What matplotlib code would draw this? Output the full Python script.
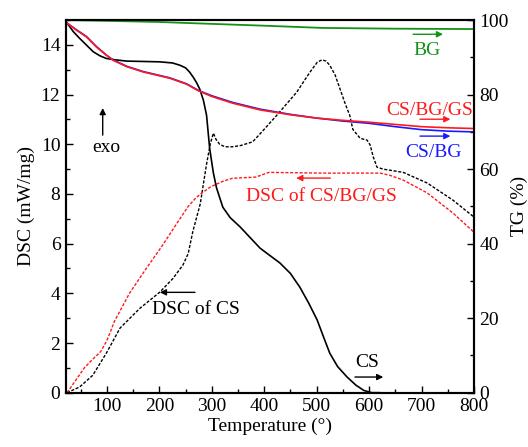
""" DSC / TG curves of CS, CS/BG, CS/BG/GS and BG """

import matplotlib
matplotlib.use("Agg")
from matplotlib import pyplot as plt
from matplotlib.ticker import MultipleLocator

plt.rcParams['font.family'] = ['Liberation Serif', 'DejaVu Serif']
plt.rcParams['font.size'] = 14

RED = '#ff1a1a'
BLUE = '#1a1aff'
GREEN = '#12921a'

# TG of CS (right axis, %)
cs_tg_t = [22, 36, 48, 61, 74, 87, 99, 118, 138, 170, 201, 225, 239, 250, 258, 265, 271,
           277, 284, 290, 296, 303, 309, 321, 335, 354, 392, 430, 450, 468, 485, 501,
           513, 525, 540, 558, 575, 590, 605, 620]
cs_tg = [99.6, 96.9, 95.1, 93.3, 91.5, 90.4, 89.7, 89.3, 89.0, 88.9, 88.8, 88.5, 87.9,
         87.2, 86.0, 84.6, 83.2, 81.5, 78.5, 74.5, 65.5, 59, 55, 49.8, 47, 44.5, 38.8,
         34.8, 32, 28.3, 24, 19.5, 15, 10.6, 7, 4.2, 2, 0.6, 0, 0]

# TG of CS/BG/GS and CS/BG (right axis, %)
mix_tg_t = [22, 42, 61, 80, 99, 112, 138, 169, 220, 252, 275, 300, 340, 392, 450, 500,
            550, 600, 650, 700, 750, 800]
csbggs_tg = [99.4, 97.3, 95.5, 92.8, 90.6, 89.2, 87.5, 86.1, 84.4, 82.8, 81.0, 79.5,
             77.7, 75.9, 74.6, 73.7, 73.1, 72.6, 72.0, 71.4, 71.1, 70.9]
csbg_tg = [99.4, 97.4, 95.6, 92.9, 90.6, 89.3, 87.6, 86.2, 84.5, 82.9, 81.1, 79.7,
           77.9, 76.1, 74.7, 73.7, 72.9, 72.3, 71.4, 70.6, 70.2, 70.0]

# TG of BG (right axis, %)
bg_tg_t = [22, 100, 200, 258, 400, 512, 650, 800]
bg_tg = [100, 99.8, 99.5, 99.2, 98.5, 97.9, 97.7, 97.6]

# DSC of CS (left axis, mW/mg)
cs_dsc_t = [24, 48, 73, 100, 125, 163, 201, 226, 245, 255, 264, 278, 290, 297, 303,
            308, 315, 325, 339, 355, 378, 398, 424, 462, 487, 501, 510, 518, 525, 535,
            544, 555, 563, 569, 583, 596, 602, 608, 615, 627, 665, 711, 760, 800]
cs_dsc = [0, 0.23, 0.7, 1.63, 2.6, 3.4, 4.05, 4.6, 5.14, 5.6, 6.5, 7.6, 9.2, 10.0, 10.45,
          10.2, 10.0, 9.9, 9.9, 9.95, 10.1, 10.56, 11.17, 12.1, 12.9, 13.3, 13.4, 13.35,
          13.18, 12.8, 12.26, 11.6, 11.17, 10.6, 10.24, 10.17, 9.97, 9.49, 9.08, 9.0,
          8.87, 8.44, 7.75, 7.07]

# DSC of CS/BG/GS (left axis, mW/mg)
mix_dsc_t = [24, 57, 73, 88, 100, 115, 143, 175, 205, 236, 255, 270, 282, 297, 320, 339,
             384, 409, 510, 621, 640, 665, 711, 760, 800]
mix_dsc = [0, 1.0, 1.35, 1.65, 2.1, 2.9, 4.0, 5.0, 5.9, 6.9, 7.5, 7.85, 8.05, 8.28, 8.5,
           8.63, 8.68, 8.87, 8.84, 8.84, 8.75, 8.56, 8.04, 7.23, 6.46]


def arrow(ax, x0, x1, y0, y1, color):
    """ small filled arrow """
    ax.annotate('', xy=(x1, y1), xytext=(x0, y0),
                arrowprops=dict(arrowstyle='-|>', color=color, lw=1.0,
                                mutation_scale=9, shrinkA=0, shrinkB=0))


fig = plt.figure(figsize=(5.28, 4.47), dpi=100)
ax = fig.add_axes([0.125, 0.1215, 0.7727, 0.8335])
ax2 = ax.twinx()

dash = (0, (2.2, 1.2))
ax.plot(cs_dsc_t, cs_dsc, color='black', lw=1.0, linestyle=dash)
ax.plot(mix_dsc_t, mix_dsc, color=RED, lw=1.0, linestyle=dash)

ax2.plot(bg_tg_t, bg_tg, color=GREEN, lw=1.3)
ax2.plot(cs_tg_t, cs_tg, color='black', lw=1.2)
ax2.plot(mix_tg_t, csbg_tg, color=BLUE, lw=1.2)
ax2.plot(mix_tg_t, csbggs_tg, color=RED, lw=1.2)

ax.set_xlim(22, 800)
ax.set_ylim(0, 15)
ax2.set_ylim(0, 100)

ax.xaxis.set_major_locator(MultipleLocator(100))
ax.xaxis.set_minor_locator(MultipleLocator(50))
ax.yaxis.set_major_locator(MultipleLocator(2))
ax.yaxis.set_minor_locator(MultipleLocator(1))
ax2.yaxis.set_major_locator(MultipleLocator(20))
ax2.yaxis.set_minor_locator(MultipleLocator(10))

for a in (ax, ax2):
    a.tick_params(which='both', direction='in', width=1.0, pad=4)
    a.tick_params(which='major', length=5)
    a.tick_params(which='minor', length=3)
    for s in a.spines.values():
        s.set_linewidth(1.5)
ax.tick_params(top=False, right=False)
ax.set_xticks(range(100, 801, 100))

ax.set_xlabel('Temperature (°)', labelpad=2)
ax.set_ylabel('DSC (mW/mg)', labelpad=4)
ax2.set_ylabel('TG (%)', labelpad=1)

# labels with arrows
ax.text(711, 13.79, 'BG', color=GREEN, ha='center', va='center')
arrow(ax, 684, 741, 14.43, 14.43, GREEN)
ax.text(716, 11.38, 'CS/BG/GS', color=RED, ha='center', va='center')
arrow(ax, 697, 755, 11.01, 11.01, RED)
ax.text(722, 9.69, 'CS/BG', color=BLUE, ha='center', va='center')
arrow(ax, 697, 755, 10.33, 10.33, BLUE)
ax.text(510, 7.91, 'DSC of CS/BG/GS', color=RED, ha='center', va='center')
arrow(ax, 526, 461, 8.64, 8.64, RED)
ax.text(270, 3.33, 'DSC of CS', color='black', ha='center', va='center')
arrow(ax, 268, 201, 4.04, 4.04, 'black')
ax.text(98, 9.89, 'exo', color='black', ha='center', va='center')
arrow(ax, 92, 92, 10.37, 11.46, 'black')
ax.text(596, 1.2, 'CS', color='black', ha='center', va='center')
arrow(ax, 573, 627, 0.63, 0.63, 'black')

fig.savefig('out.png', dpi=100)
